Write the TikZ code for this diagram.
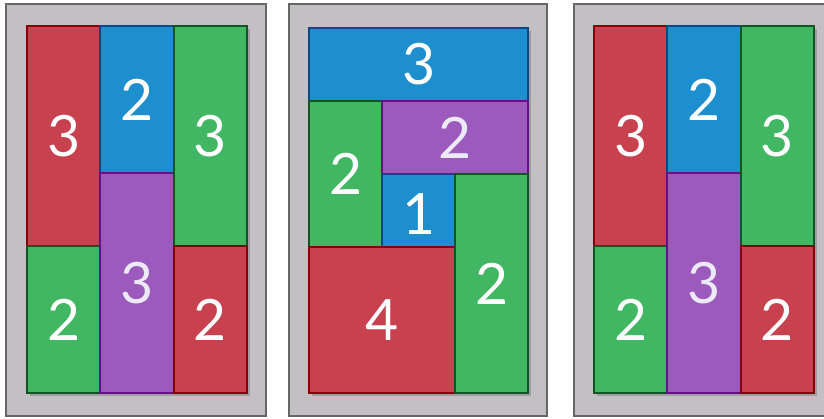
\documentclass[tikz,border=0pt]{standalone}
\usepackage{fontspec}
\setmainfont{Lato}

\definecolor{tileRed}{HTML}{C8414F}
\definecolor{tileRedLine}{HTML}{850008}
\definecolor{tileBlue}{HTML}{1E8FCE}
\definecolor{tileBlueLine}{HTML}{0A4888}
\definecolor{tileGreen}{HTML}{41B764}
\definecolor{tileGreenLine}{HTML}{145424}
\definecolor{tilePurple}{HTML}{9C5BBC}
\definecolor{tilePurpleLine}{HTML}{661088}
\definecolor{frameFill}{HTML}{C2C0C2}
\definecolor{frameLine}{HTML}{666666}
\definecolor{purpleText}{HTML}{ECEAF8}

\begin{document}
\begin{tikzpicture}[x=1pt,y=-1pt,
    frame/.style={fill=frameFill, draw=frameLine, line width=1.8pt},
    shade box/.style={fill=black, opacity=0.18},
    redtile/.style={fill=tileRed, draw=tileRedLine, line width=2pt},
    bluetile/.style={fill=tileBlue, draw=tileBlueLine, line width=2pt},
    greentile/.style={fill=tileGreen, draw=tileGreenLine, line width=2pt},
    purpletile/.style={fill=tilePurple, draw=tilePurpleLine, line width=2pt},
    num/.style={text=white, font=\fontsize{57}{57}\selectfont, inner sep=0pt},
    pnum/.style={num, text=purpleText}]

\useasboundingbox (0,0) rectangle (824,419);
\fill[white] (0,0) rectangle (824,419);
\clip (0,0) rectangle (824,419);

% Rahmen
\draw[frame] (6,4) rectangle (266,416);
\draw[frame] (289,4) rectangle (547,416);
\draw[frame] (574,4) rectangle (840,416);

% Tafel links und rechts
\foreach \px/\nm in {27/a,594/c}{
\begin{scope}[shift={(\px pt,-26pt)}, x=73.3pt, y=-73.4pt]
        \fill[shade box] (0.04,0.04) rectangle (3.04,5.04);

        \draw[redtile] (0,0) rectangle (1,3);
        \draw[greentile] (0,3) rectangle (1,5);
        \draw[bluetile] (1,0) rectangle (2,2);
        \draw[purpletile] (1,2) rectangle (2,5);
        \draw[greentile] (2,0) rectangle (3,3);
        \draw[redtile] (2,3) rectangle (3,5);

        % Zahlen
        \node[num] (\nm1) at (0.5,1.5) {3};
        \node[num] (\nm2) at (0.5,4) {2};
        \node[num] (\nm3) at (1.5,1) {2};
        \node[pnum] (\nm4) at (1.5,3.5) {3};
        \node[num] (\nm5) at (2.5,1.5) {3};
        \node[num] (\nm6) at (2.5,4) {2};
\end{scope}
}

% Tafel Mitte
\begin{scope}[shift={(309pt,-28pt)}, x=73.1pt, y=-73pt]
        \fill[shade box] (0.04,0.04) rectangle (3.04,5.04);

        \draw[bluetile] (0,0) rectangle (3,1);
        \draw[greentile] (0,1) rectangle (1,3);
        \draw[purpletile] (1,1) rectangle (3,2);
        \draw[bluetile] (1,2) rectangle (2,3);
        \draw[redtile] (0,3) rectangle (2,5);
        \draw[greentile] (2,2) rectangle (3,5);

        % Zahlen
        \node[num] (b1) at (1.5,0.5) {3};
        \node[num] (b2) at (0.5,2) {2};
        \node[pnum] (b3) at (2,1.5) {2};
        \node[num] (b4) at (1.5,2.55) {1};
        \node[num] (b5) at (1,4) {4};
        \node[num] (b6) at (2.5,3.5) {2};
\end{scope}

\end{tikzpicture}
\end{document}
